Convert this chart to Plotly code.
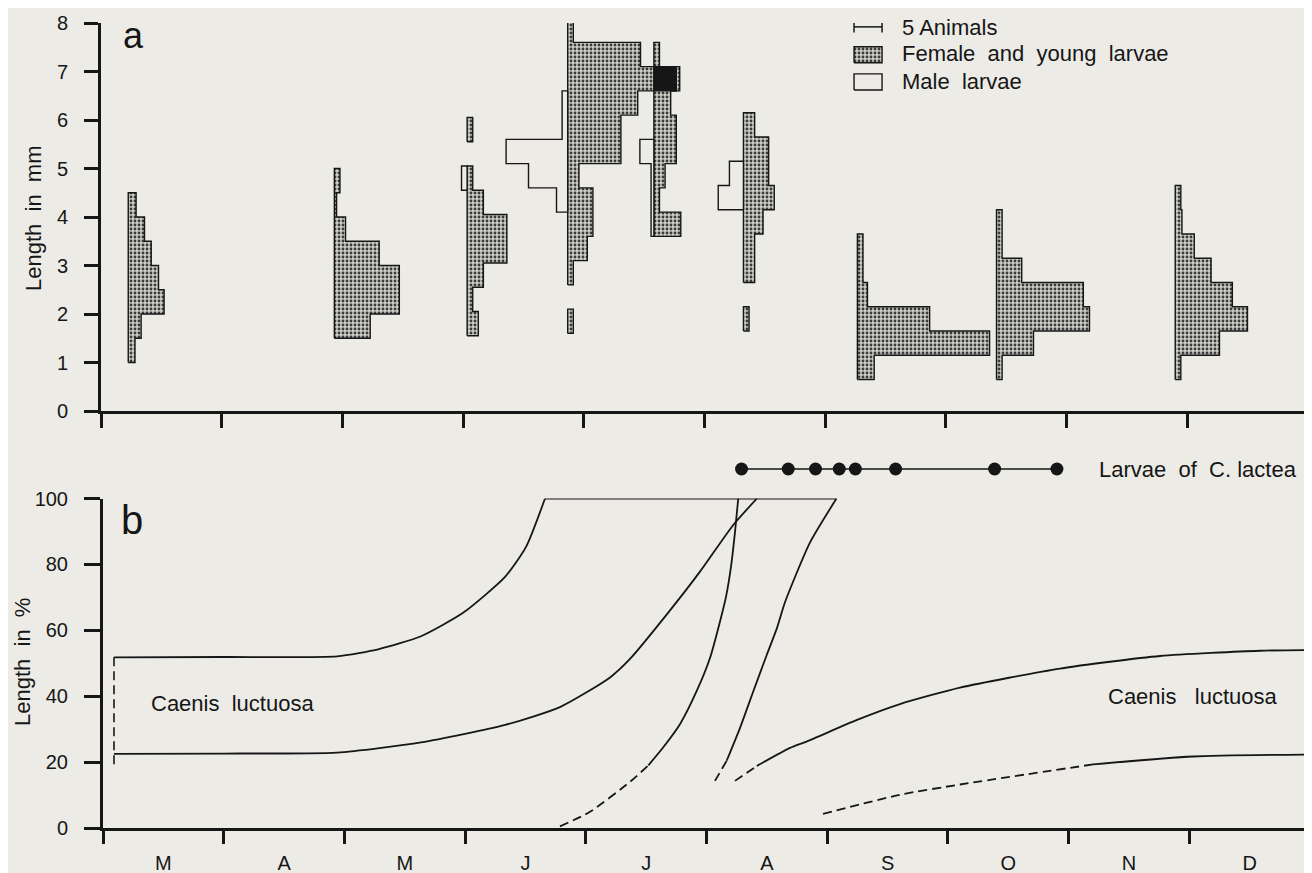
import calendar
import plotly.graph_objects as go

# ---------------- data ----------------
MONTH_LABELS = ["M", "A", "M", "J", "J", "A", "S", "O", "N", "D"]
MONTH_EDGES = list(range(0, 11))            # month boundaries (months since 1 March)
LENGTH_TICKS = [0, 1, 2, 3, 4, 5, 6, 7, 8]
PCT_TICKS = [0, 20, 40, 60, 80, 100]

# panel a: sampling dates (MM-DD) and size-class counts (0.5 mm classes, animals)
SAMPLE_DATES = ["03-08", "04-29", "06-02", "06-27", "07-19", "08-11", "09-09", "10-14", "11-28"]
BIN_MM = 0.5
FEMALE_START = [1.0, 1.5, 1.55, 1.6, 3.6, 1.65, 0.65, 0.65, 0.65]
female_mar08 = [1.2, 2.3, 6.4, 5.4, 4.1, 2.9, 1.4]
female_apr29 = [6.4, 11.6, 11.6, 8.0, 2.0, 0.4, 1.0]
female_jun02 = [2.0, 1.0, 2.9, 7.1, 7.1, 2.9, 1.0, 0, 1.0]
female_jun27 = [1.0, 0, 1.0, 3.5, 4.5, 4.5, 2.0, 9.5, 9.5, 12.5, 20.0, 13.0, 1.0]
female_jul19 = [4.8, 1.0, 2.0, 4.0, 4.0, 3.0, 4.0, 1.0]
female_aug11 = [1.0, 0, 2.0, 2.0, 3.5, 5.5, 4.5, 4.5, 2.0]
female_sep09 = [3.0, 23.6, 12.9, 1.8, 1.0, 1.0]
female_oct14 = [1.0, 6.6, 16.6, 15.5, 4.5, 1.0, 1.0]
female_nov28 = [1.0, 7.9, 12.9, 10.2, 6.4, 3.4, 1.2, 1.0]
FEMALE_COUNTS = [female_mar08, female_apr29, female_jun02, female_jun27, female_jul19,
                 female_aug11, female_sep09, female_oct14, female_nov28]

MALE_START = [0, 0, 4.55, 4.1, 3.6, 4.15, 0, 0, 0]
male_jun02 = [1.0]
male_jun27 = [2.0, 7.0, 11.0, 1.0, 1.0]
male_jul19 = [0.5, 0.5, 0.5, 2.5]
male_aug11 = [4.5, 2.5]
MALE_COUNTS = [[], [], male_jun02, male_jun27, male_jul19, male_aug11, [], [], []]
KEY_ANIMALS = 5

# panel b: growth curves (x in months since 1 March, y in % of final length)
curve_a_x = [0.091, 1.011, 1.939, 2.287, 2.635, 2.983, 3.331, 3.505, 3.662]
curve_a_y = [51.8, 51.9, 52.1, 54.3, 58.2, 65.3, 76.2, 85.3, 100]
top_x = [3.662, 6.077]
top_y = [100, 100]
curve_b_x = [0.091, 1.011, 1.939, 2.635, 3.331, 3.786, 4.201, 4.366, 4.673, 4.946, 5.220, 5.418]
curve_b_y = [22.5, 22.6, 22.9, 26.0, 31.3, 36.7, 45.7, 51.3, 64.9, 77.8, 91.9, 100]
curve_c_dash_x = [3.786, 4.035, 4.366, 4.518]
curve_c_dash_y = [0.5, 4.9, 14.0, 19.0]
curve_c_x = [4.518, 4.642, 4.780, 4.919, 5.029, 5.112, 5.162, 5.203, 5.236, 5.263]
curve_c_y = [19.0, 24.5, 31.5, 41.6, 51.6, 62.7, 70.2, 79.3, 89.8, 100]
curve_d_dash_x = [5.070, 5.167]
curve_d_dash_y = [14.3, 20.4]
curve_d_x = [5.167, 5.278, 5.388, 5.499, 5.582, 5.651, 5.857, 6.077]
curve_d_y = [20.4, 30.4, 41.5, 52.5, 60.5, 68.6, 86.6, 100]
curve_e_dash_x = [5.236, 5.416]
curve_e_dash_y = [14.3, 18.8]
curve_e_x = [5.416, 5.692, 5.833, 6.247, 6.603, 7.100, 7.929, 8.757, 9.586, 10.0]
curve_e_y = [18.8, 24.3, 26.3, 32.8, 37.6, 42.6, 48.4, 52.2, 53.8, 54.0]
curve_f_dash_x = [5.965, 6.603, 7.100, 8.202]
curve_f_dash_y = [4.3, 10.1, 13.2, 19.3]
curve_f_x = [8.202, 9.031, 10.0]
curve_f_y = [19.3, 21.7, 22.3]
bracket_left_x = [0.091, 0.091]
bracket_left_y = [51.8, 18.5]
bracket_right_x = [10.0, 10.0]
bracket_right_y = [57.0, 22.3]
LACTEA_DATES = ["08-10", "08-22", "08-29", "09-04", "09-08", "09-18", "10-13", "10-29"]

# ---------------- helpers ----------------
# the page adds an 8 px body margin, so the figure is 8 px smaller and all
# reference pixel positions are shifted by that offset
OFF = 8
W, H = 1312 - OFF, 873 - OFF
BG = "#ecebe6"
INK = "#161616"
FONT = "Liberation Sans"
ANIMAL_W = 0.0464   # months of x-axis per animal (kite-diagram scale)


def px_x(p):
    return (p - OFF) / W


def px_y(p):
    return 1 - (p - OFF) / H


def month_pos(mmdd):
    m, d = map(int, mmdd.split("-"))
    return (m - 3) + (d - 1) / calendar.monthrange(1979, m)[1]


def runs(start, counts):
    out, cur = [], []
    for i, c in enumerate(list(counts) + [0]):
        if c > 0:
            cur.append((start + i * BIN_MM, start + (i + 1) * BIN_MM, c))
        elif cur:
            out.append(cur)
            cur = []
    return out


def polygon(base, run, sign):
    xs, ys = [base], [run[0][0]]
    for lo, hi, c in run:
        xs += [base + sign * c * ANIMAL_W] * 2
        ys += [lo, hi]
    xs += [base, base]
    ys += [run[-1][1], run[0][0]]
    return xs, ys


fig = go.Figure()
stipple = dict(shape=".", fgcolor="#3a3a3a", bgcolor="#cdcdc8", size=4, solidity=0.4)
STIP_FILL = "#ababa7"

bases = [month_pos(d) for d in SAMPLE_DATES]
for base, fs, fc, ms, mc in zip(bases, FEMALE_START, FEMALE_COUNTS, MALE_START, MALE_COUNTS):
    for run in runs(fs, fc):
        xs, ys = polygon(base, run, +1)
        fig.add_trace(go.Scatter(x=xs, y=ys, mode="lines", fill="toself", fillcolor=STIP_FILL,
                                 fillpattern=stipple, line=dict(color=INK, width=1.4),
                                 xaxis="x", yaxis="y", hoverinfo="skip", showlegend=False))
    for run in runs(ms, mc):
        xs, ys = polygon(base, run, -1)
        fig.add_trace(go.Scatter(x=xs, y=ys, mode="lines", fill="toself", fillcolor=BG,
                                 line=dict(color=INK, width=1.4),
                                 xaxis="x", yaxis="y", hoverinfo="skip", showlegend=False))

# overlapping female bars of neighbouring samples are drawn black
rects = []
for base, fs, fc in zip(bases, FEMALE_START, FEMALE_COUNTS):
    rects.append([(base, base + c * ANIMAL_W, fs + i * BIN_MM, fs + (i + 1) * BIN_MM)
                  for i, c in enumerate(fc) if c > 0])
for i in range(len(rects)):
    for j in range(i + 1, len(rects)):
        for a in rects[i]:
            for b in rects[j]:
                x0, x1 = max(a[0], b[0]), min(a[1], b[1])
                y0, y1 = max(a[2], b[2]), min(a[3], b[3])
                if x1 > x0 and y1 > y0:
                    fig.add_trace(go.Scatter(x=[x0, x1, x1, x0, x0], y=[y0, y0, y1, y1, y0],
                                             mode="lines", fill="toself", fillcolor=INK,
                                             line=dict(color=INK, width=1.4), xaxis="x", yaxis="y",
                                             hoverinfo="skip", showlegend=False))

# key of panel a (drawn in data units so that the bar = 5 animals)
kx = 6.239
kw = KEY_ANIMALS * ANIMAL_W
fig.add_trace(go.Scatter(x=[kx, kx + kw], y=[7.92, 7.92], mode="lines+markers",
                         marker=dict(symbol="line-ns", size=8, line=dict(color=INK, width=1.5)),
                         line=dict(color=INK, width=1.5), xaxis="x", yaxis="y",
                         hoverinfo="skip", showlegend=False))
fig.add_trace(go.Scatter(x=[kx, kx + kw, kx + kw, kx, kx], y=[7.18, 7.18, 7.51, 7.51, 7.18],
                         mode="lines", fill="toself", fillcolor=STIP_FILL, fillpattern=stipple,
                         line=dict(color=INK, width=1.4), xaxis="x", yaxis="y",
                         hoverinfo="skip", showlegend=False))
fig.add_trace(go.Scatter(x=[kx, kx + kw, kx + kw, kx, kx], y=[6.62, 6.62, 6.95, 6.95, 6.62],
                         mode="lines", line=dict(color=INK, width=1.4), xaxis="x", yaxis="y",
                         hoverinfo="skip", showlegend=False))

# panel b curves
solid = dict(color=INK, width=1.8)
dashed = dict(color=INK, width=1.8, dash="9px,5px")
for xs, ys, st, shape in [
    (curve_a_x, curve_a_y, solid, "spline"), (top_x, top_y, solid, "linear"),
    (curve_b_x, curve_b_y, solid, "spline"),
    (curve_c_dash_x, curve_c_dash_y, dashed, "spline"), (curve_c_x, curve_c_y, solid, "spline"),
    (curve_d_dash_x, curve_d_dash_y, dashed, "spline"), (curve_d_x, curve_d_y, solid, "spline"),
    (curve_e_dash_x, curve_e_dash_y, dashed, "spline"), (curve_e_x, curve_e_y, solid, "spline"),
    (curve_f_dash_x, curve_f_dash_y, dashed, "spline"), (curve_f_x, curve_f_y, solid, "spline"),
    (bracket_left_x, bracket_left_y, dict(color=INK, width=1.6, dash="9px,5px"), "linear"),
    (bracket_right_x, bracket_right_y, dict(color=INK, width=1.6, dash="9px,5px"), "linear"),
]:
    line = dict(st, shape=shape, smoothing=0.6) if shape == "spline" else dict(st)
    fig.add_trace(go.Scatter(x=xs, y=ys, mode="lines", line=line, xaxis="x2", yaxis="y2",
                             hoverinfo="skip", showlegend=False, cliponaxis=False))

# larvae of C. lactea
lx = [month_pos(d) for d in LACTEA_DATES]
fig.add_trace(go.Scatter(x=lx, y=[0] * len(lx), mode="lines+markers",
                         marker=dict(size=13, color=INK), line=dict(color=INK, width=1.5),
                         xaxis="x2", yaxis="y3", hoverinfo="skip", showlegend=False))

# ---------------- layout ----------------
tickfont = dict(family=FONT, size=20, color=INK)
axis_common = dict(showline=True, linecolor=INK, linewidth=3, showgrid=False, zeroline=False,
                   ticks="outside", tickcolor=INK, tickwidth=2.5, automargin=False, tickfont=tickfont)

fig.update_layout(
    width=W, height=H, template="none", autosize=False,
    margin=dict(l=0, r=0, t=0, b=0),
    paper_bgcolor=BG, plot_bgcolor="rgba(0,0,0,0)", showlegend=False,
    xaxis=dict(axis_common, domain=[px_x(101), px_x(1308)], range=[0, 10], anchor="y",
               tickmode="array", tickvals=MONTH_EDGES, showticklabels=False, ticklen=14),
    yaxis=dict(axis_common, domain=[px_y(411), px_y(23)], range=[0, 8], anchor="x",
               tickmode="array", tickvals=LENGTH_TICKS, ticklen=14, ticklabelstandoff=12),
    xaxis2=dict(axis_common, domain=[px_x(103), px_x(1310)], range=[0, 10], anchor="y2",
                tickmode="array", tickvals=[i + 0.5 for i in range(10)], ticktext=MONTH_LABELS,
                ticks="", ticklabelstandoff=15,
                minor=dict(tickmode="array", tickvals=MONTH_EDGES, ticks="outside", ticklen=13,
                           tickwidth=2.5, tickcolor=INK)),
    yaxis2=dict(axis_common, domain=[px_y(828), px_y(498.5)], range=[0, 100], anchor="x2",
                tickmode="array", tickvals=PCT_TICKS, ticklen=16, ticklabelstandoff=12),
    yaxis3=dict(domain=[px_y(480), px_y(458)], range=[-1, 1], anchor="x2", visible=False),
)


def note(text, x, y, size=22, xanchor="left", angle=0):
    fig.add_annotation(text=text, x=px_x(x), y=px_y(y), xref="paper", yref="paper",
                       xanchor=xanchor, yanchor="middle", showarrow=False, textangle=angle,
                       font=dict(family=FONT, size=size, color=INK))


NB = "\u00a0"
note("a", 121, 35, size=36)
note("b", 119, 520, size=40)
note(f"Length{NB}{NB}in{NB}{NB}mm", 33, 218, size=22, xanchor="center", angle=-90)
note(f"Length{NB}{NB}in{NB}{NB}%", 22, 662, size=22, xanchor="center", angle=-90)
note("5 Animals", 900, 27)
note(f"Female{NB}{NB}and{NB}{NB}young{NB}{NB}larvae", 900, 54)
note(f"Male{NB}{NB}larvae", 900, 81)
note(f"Larvae{NB}{NB}of{NB}{NB}C.{NB}lactea", 1097, 469)
note(f"Caenis{NB}{NB}luctuosa", 149, 703)
note(f"Caenis{NB}{NB}{NB}luctuosa", 1106, 696)

fig.write_html("out.html")
